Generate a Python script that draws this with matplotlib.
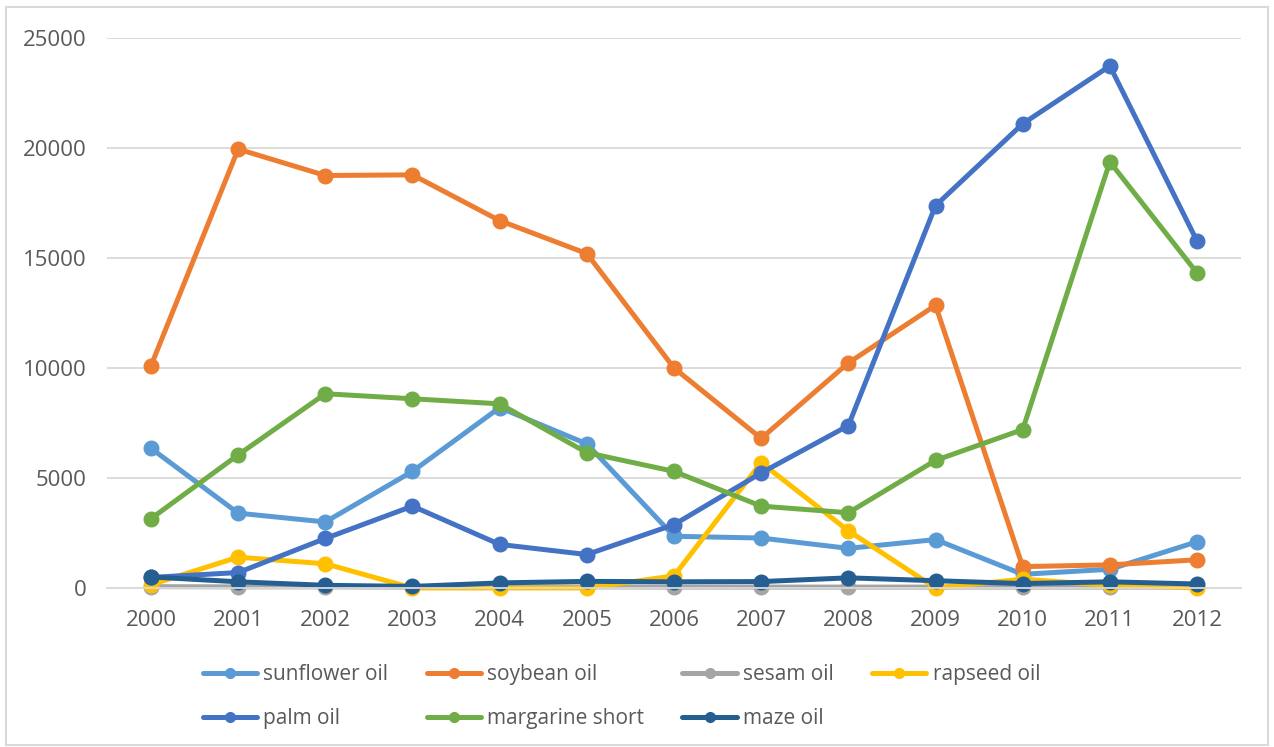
import numpy as np
import matplotlib
matplotlib.use("Agg")
import matplotlib.pyplot as plt
from matplotlib.patches import Rectangle

years = ["2000", "2001", "2002", "2003", "2004", "2005", "2006",
         "2007", "2008", "2009", "2010", "2011", "2012"]

sunflower = [6350, 3400, 3000, 5300, 8200, 6550, 2350, 2270, 1800, 2200, 620, 850, 2100]
soybean = [10100, 19950, 18750, 18780, 16700, 15200, 10000, 6800, 10230, 12850, 970, 1050, 1280]
sesam = [60, 50, 50, 40, 50, 50, 40, 40, 40, 40, 40, 40, 40]
rapseed = [150, 1400, 1100, 0, 0, 0, 550, 5700, 2600, 0, 400, 120, 0]
palm = [480, 700, 2250, 3720, 1980, 1520, 2880, 5230, 7380, 17380, 21100, 23730, 15770]
margarine = [3150, 6050, 8830, 8600, 8370, 6150, 5300, 3720, 3420, 5800, 7200, 19370, 14320]
maze = [500, 280, 120, 70, 230, 300, 280, 290, 460, 330, 200, 280, 180]

series = [
    ("sunflower oil", sunflower, "#5B9BD5"),
    ("soybean oil", soybean, "#ED7D31"),
    ("sesam oil", sesam, "#A5A5A5"),
    ("rapseed oil", rapseed, "#FFC000"),
    ("palm oil", palm, "#4472C4"),
    ("margarine short", margarine, "#70AD47"),
    ("maze oil", maze, "#255E91"),
]

plt.rcParams['font.family'] = ['Open Sans', 'DejaVu Sans']
txt = "#595959"

fig = plt.figure(figsize=(12.74, 7.47), dpi=100)
ax = fig.add_axes([0.0843, 0.2129, 0.8895, 0.7362])

x = np.arange(len(years))
lines = []
for name, vals, col in series:
    ln, = ax.plot(x, vals, color=col, lw=3.6, marker="o", ms=10.5, label=name,
                  solid_capstyle="round", clip_on=False)
    lines.append(ln)

ax.set_xlim(-0.5, len(years) - 0.5)
ax.set_ylim(0, 25000)
ax.set_yticks(np.arange(0, 25001, 5000))
ax.set_xticks(x)
ax.set_xticklabels(years)
ax.grid(axis="y", color="#D9D9D9", lw=1.3)
ax.set_axisbelow(True)
for s in ["top", "right", "left"]:
    ax.spines[s].set_visible(False)
ax.spines["bottom"].set_color("#D9D9D9")
ax.spines["bottom"].set_linewidth(1.3)
ax.tick_params(axis="both", length=0, labelsize=16, colors=txt)
ax.tick_params(axis="y", pad=15)
ax.tick_params(axis="x", pad=16)

# legend is filled column by column, so reorder to read across the rows
order = [0, 4, 1, 5, 2, 6, 3]
leg = fig.legend([lines[i] for i in order], [series[i][0] for i in order],
                 loc="upper left", bbox_to_anchor=(0.159, 0.111), ncol=4,
                 frameon=False, fontsize=15, handlelength=2.6,
                 handletextpad=0.3, columnspacing=1.85, labelspacing=1.1,
                 borderaxespad=0, borderpad=0)
for t in leg.get_texts():
    t.set_color(txt)
for h in leg.legend_handles:
    h.set_markersize(7)

fig.add_artist(Rectangle((0.005, 0.003), 0.99, 0.987, transform=fig.transFigure,
                         fill=False, edgecolor="#D9D9D9", lw=1.5))

fig.savefig("out.png", dpi=100)
